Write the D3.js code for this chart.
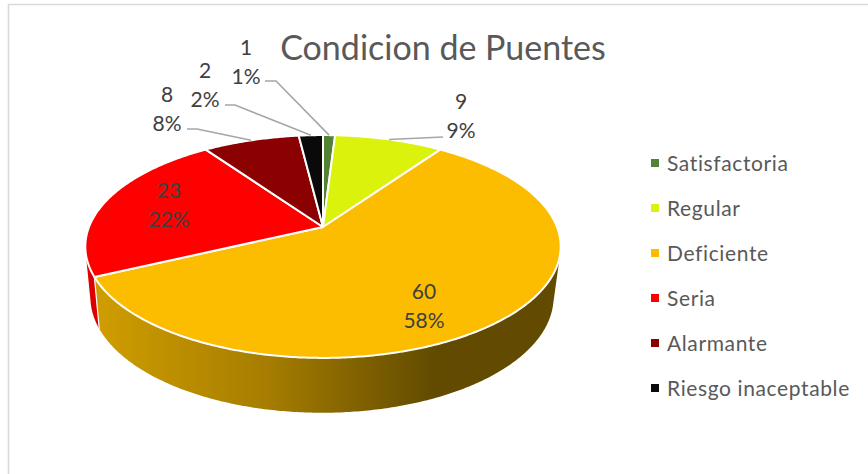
<!DOCTYPE html>
<html>
<head>
<meta charset="utf-8">
<script src="https://cdn.jsdelivr.net/npm/d3@7"></script>
<style>
html,body{margin:0;padding:0;background:#fff;overflow:hidden}
svg{display:block}
text{font-family:Lato,"Open Sans",sans-serif}
</style>
</head>
<body>
<svg id="chart" width="868" height="474"></svg>
<script>
const chartTitle = "Condicion de Puentes";
const categories = ["Satisfactoria", "Regular", "Deficiente", "Seria", "Alarmante", "Riesgo inaceptable"];
const values = [1, 9, 60, 23, 8, 2];
const topColors = ["#548235", "#DAF20C", "#FCBD00", "#FF0000", "#8B0000", "#0A0A0A"];
const sideColors = ["#3a5a25", "#98a808", "#a67d00", "#DC0000", "#600000", "#050505"];

// label layout (x centre, y centre of first line, leader elbow) per category
const labelLayout = [
  {x: 246, y: 47, lineStart: [265, 81], elbow: [276, 81]},
  {x: 461, y: 101, lineStart: [443, 137], elbow: null},
  {x: 424, y: 291},
  {x: 169, y: 190},
  {x: 167, y: 94, lineStart: [187, 129], elbow: [197, 129]},
  {x: 205, y: 70, lineStart: [225, 105], elbow: [235, 105]}
];

const svg = d3.select("#chart");
const W = 868, H = 474;

// chart frame
svg.append("path").attr("d", `M8.5 ${H}V4.5H${W}`).attr("fill", "none")
  .attr("stroke", "#d9d9d9").attr("stroke-width", 1.6);

// perspective projection of the pie disc
const persp = 0.175;
const topDisc = {cx: 323, cy: 227, bx: 234, by: 108};
const lowDisc = {cx: 322, cy: 277, bx: 228, by: 112};
function project(disc, a) {
  const u = Math.sin(a), v = Math.cos(a), w = 1 + persp * v;
  return [disc.cx + disc.bx * u / w, disc.cy - disc.by * v / w];
}

const total = d3.sum(values);
const pie = d3.pie().sort(null).startAngle(0).endAngle(2 * Math.PI);
const arcs = pie(values);
const line = d3.line();

function samples(a0, a1) {
  const n = Math.max(2, Math.ceil((a1 - a0) / 0.01));
  return d3.range(n + 1).map(i => a0 + (a1 - a0) * i / n);
}

// gradient for the front wall of the big slice
const defs = svg.append("defs");
const grad = defs.append("linearGradient").attr("id", "sideGrad")
  .attr("gradientUnits", "userSpaceOnUse")
  .attr("x1", 98).attr("x2", 435).attr("y1", 0).attr("y2", 0);
[[0, "#CF9D00"], [0.5, "#A67D00"], [1, "#624B00"]].forEach(([o, c]) =>
  grad.append("stop").attr("offset", o).attr("stop-color", c));

// walls: one path per slice, built from consistently wound quads
const wallOrder = [0, 1, 5, 4, 3, 2];
wallOrder.forEach(i => {
  const d = arcs[i];
  const fill = i === 2 ? "url(#sideGrad)" : sideColors[i];
  const as = samples(d.startAngle, d.endAngle);
  let path = "";
  for (let k = 0; k < as.length - 1; k++) {
    let p = [project(topDisc, as[k]), project(topDisc, as[k + 1]),
             project(lowDisc, as[k + 1]), project(lowDisc, as[k])];
    if (d3.polygonArea(p) < 0) p = p.reverse();
    path += line(p) + "Z";
  }
  svg.append("path").attr("d", path).attr("fill", fill);
  if (i === 2) {
    const e = d.endAngle;
    svg.append("path").attr("d", line([project(topDisc, e), project(lowDisc, e)]))
      .attr("stroke", "#fff").attr("stroke-width", 1.2).attr("fill", "none");
  }
});

// top face
arcs.forEach((d, i) => {
  const pts = [[topDisc.cx, topDisc.cy]].concat(samples(d.startAngle, d.endAngle).map(a => project(topDisc, a)));
  svg.append("path").attr("d", line(pts) + "Z")
    .attr("fill", topColors[i]).attr("stroke", "#fff").attr("stroke-width", 2)
    .attr("stroke-linejoin", "round");
});

// leader lines
arcs.forEach((d, i) => {
  const l = labelLayout[i];
  if (!l.lineStart) return;
  const end = project(topDisc, (d.startAngle + d.endAngle) / 2);
  const pts = [l.lineStart].concat(l.elbow ? [l.elbow] : []).concat([end]);
  svg.append("path").attr("d", line(pts)).attr("fill", "none")
    .attr("stroke", "#a6a6a6").attr("stroke-width", 1.6);
});

// data labels
arcs.forEach((d, i) => {
  const l = labelLayout[i];
  const lab = svg.append("g").attr("fill", "#404040").attr("font-size", 21)
    .attr("text-anchor", "middle");
  lab.append("text").attr("x", l.x).attr("y", l.y).attr("dy", "0.36em").text(values[i]);
  lab.append("text").attr("x", l.x).attr("y", l.y + 29).attr("dy", "0.36em")
    .text(Math.round(values[i] / total * 100) + "%");
});

// title
svg.append("text").attr("x", 443).attr("y", 60).attr("text-anchor", "middle")
  .attr("font-size", 34).attr("fill", "#595959").text(chartTitle);

// legend
const legendY = d3.scalePoint().domain(categories).range([163, 388]);
categories.forEach((c, i) => {
  const y = legendY(c);
  svg.append("rect").attr("x", 651).attr("y", y - 4).attr("width", 8).attr("height", 8).attr("fill", topColors[i]);
  svg.append("text").attr("x", 667).attr("y", y).attr("dy", "0.36em")
    .attr("font-size", 21).attr("letter-spacing", 0.62).attr("fill", "#595959").text(c);
});
</script>
</body>
</html>
